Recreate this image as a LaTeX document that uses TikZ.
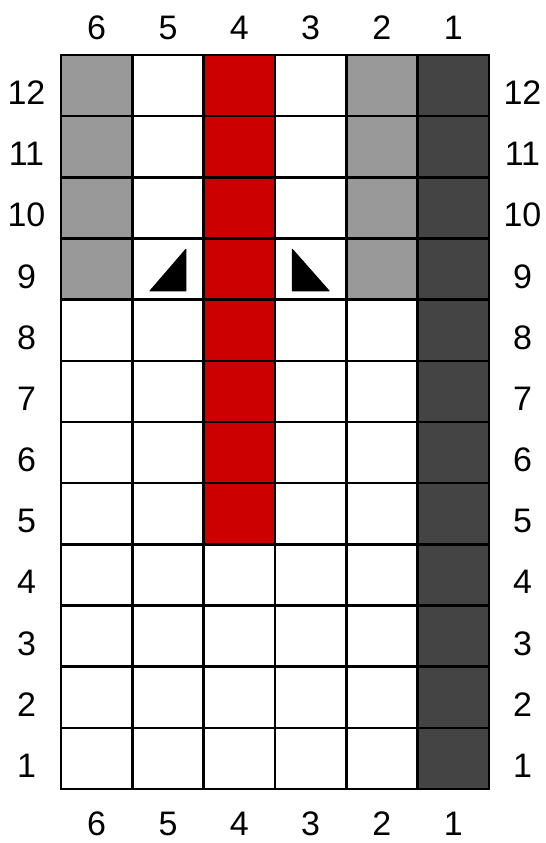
\documentclass[tikz,border=0pt]{standalone}
\usepackage{fontspec}
\setmainfont{Liberation Sans}
\definecolor{chartred}{HTML}{CC0000}
\definecolor{lightgrey}{HTML}{999999}
\definecolor{darkgrey}{HTML}{444444}

\begin{document}
\begin{tikzpicture}[x=71.33pt,y=61.17pt,
  num/.style={font=\fontsize{34}{34}\selectfont, inner sep=0pt},
  cellline/.style={line width=2.6pt, line cap=rect},
  decr/.style={fill=black, draw=black, line width=1pt, line join=round}]

\useasboundingbox (-0.855,-0.883) rectangle (6.799,12.899);

%%%%% Coloured stitches
\fill [lightgrey] (0,8) rectangle (1,12); \fill [lightgrey] (4,8) rectangle (5,12);
\fill [darkgrey] (5,0) rectangle (6,12);
\fill [chartred] (2,4) rectangle (3,12);

%%%%% Grid
\draw [cellline, xstep=71.33pt, ystep=61.17pt] (0,0) grid (6,12);

%%%%% Decreases in row 9
\draw [decr] (1.248,8.142)--(1.752,8.142)--(1.752,8.824)--cycle;
\draw [decr] (3.243,8.824)--(3.243,8.142)--(3.759,8.142)--cycle;

%%%%% Stitch numbers, top and bottom
\node [num] (t6) at (0.5,12.44) {6}; \node [num] (t5) at (1.5,12.44) {5}; \node [num] (t4) at (2.5,12.44) {4}; \node [num] (t3) at (3.5,12.44) {3}; \node [num] (t2) at (4.5,12.44) {2}; \node [num] (t1) at (5.5,12.44) {1};

\node [num] (b6) at (0.5,-0.572) {6}; \node [num] (b5) at (1.5,-0.572) {5}; \node [num] (b4) at (2.5,-0.572) {4}; \node [num] (b3) at (3.5,-0.572) {3}; \node [num] (b2) at (4.5,-0.572) {2}; \node [num] (b1) at (5.5,-0.572) {1};

%%%%% Row numbers, left and right
\node [num] (l12) at (-0.484,11.38) {12}; \node [num] (l11) at (-0.484,10.38) {11}; \node [num] (l10) at (-0.484,9.38) {10}; \node [num] (l9) at (-0.484,8.38) {9};
\node [num] (l8) at (-0.484,7.38) {8}; \node [num] (l7) at (-0.484,6.38) {7}; \node [num] (l6) at (-0.484,5.38) {6}; \node [num] (l5) at (-0.484,4.38) {5};
\node [num] (l4) at (-0.484,3.38) {4}; \node [num] (l3) at (-0.484,2.38) {3}; \node [num] (l2) at (-0.484,1.38) {2}; \node [num] (l1) at (-0.484,0.38) {1};

\node [num] (r12) at (6.47,11.38) {12}; \node [num] (r11) at (6.47,10.38) {11}; \node [num] (r10) at (6.47,9.38) {10}; \node [num] (r9) at (6.47,8.38) {9};
\node [num] (r8) at (6.47,7.38) {8}; \node [num] (r7) at (6.47,6.38) {7}; \node [num] (r6) at (6.47,5.38) {6}; \node [num] (r5) at (6.47,4.38) {5};
\node [num] (r4) at (6.47,3.38) {4}; \node [num] (r3) at (6.47,2.38) {3}; \node [num] (r2) at (6.47,1.38) {2}; \node [num] (r1) at (6.47,0.38) {1};

\end{tikzpicture}
\end{document}
